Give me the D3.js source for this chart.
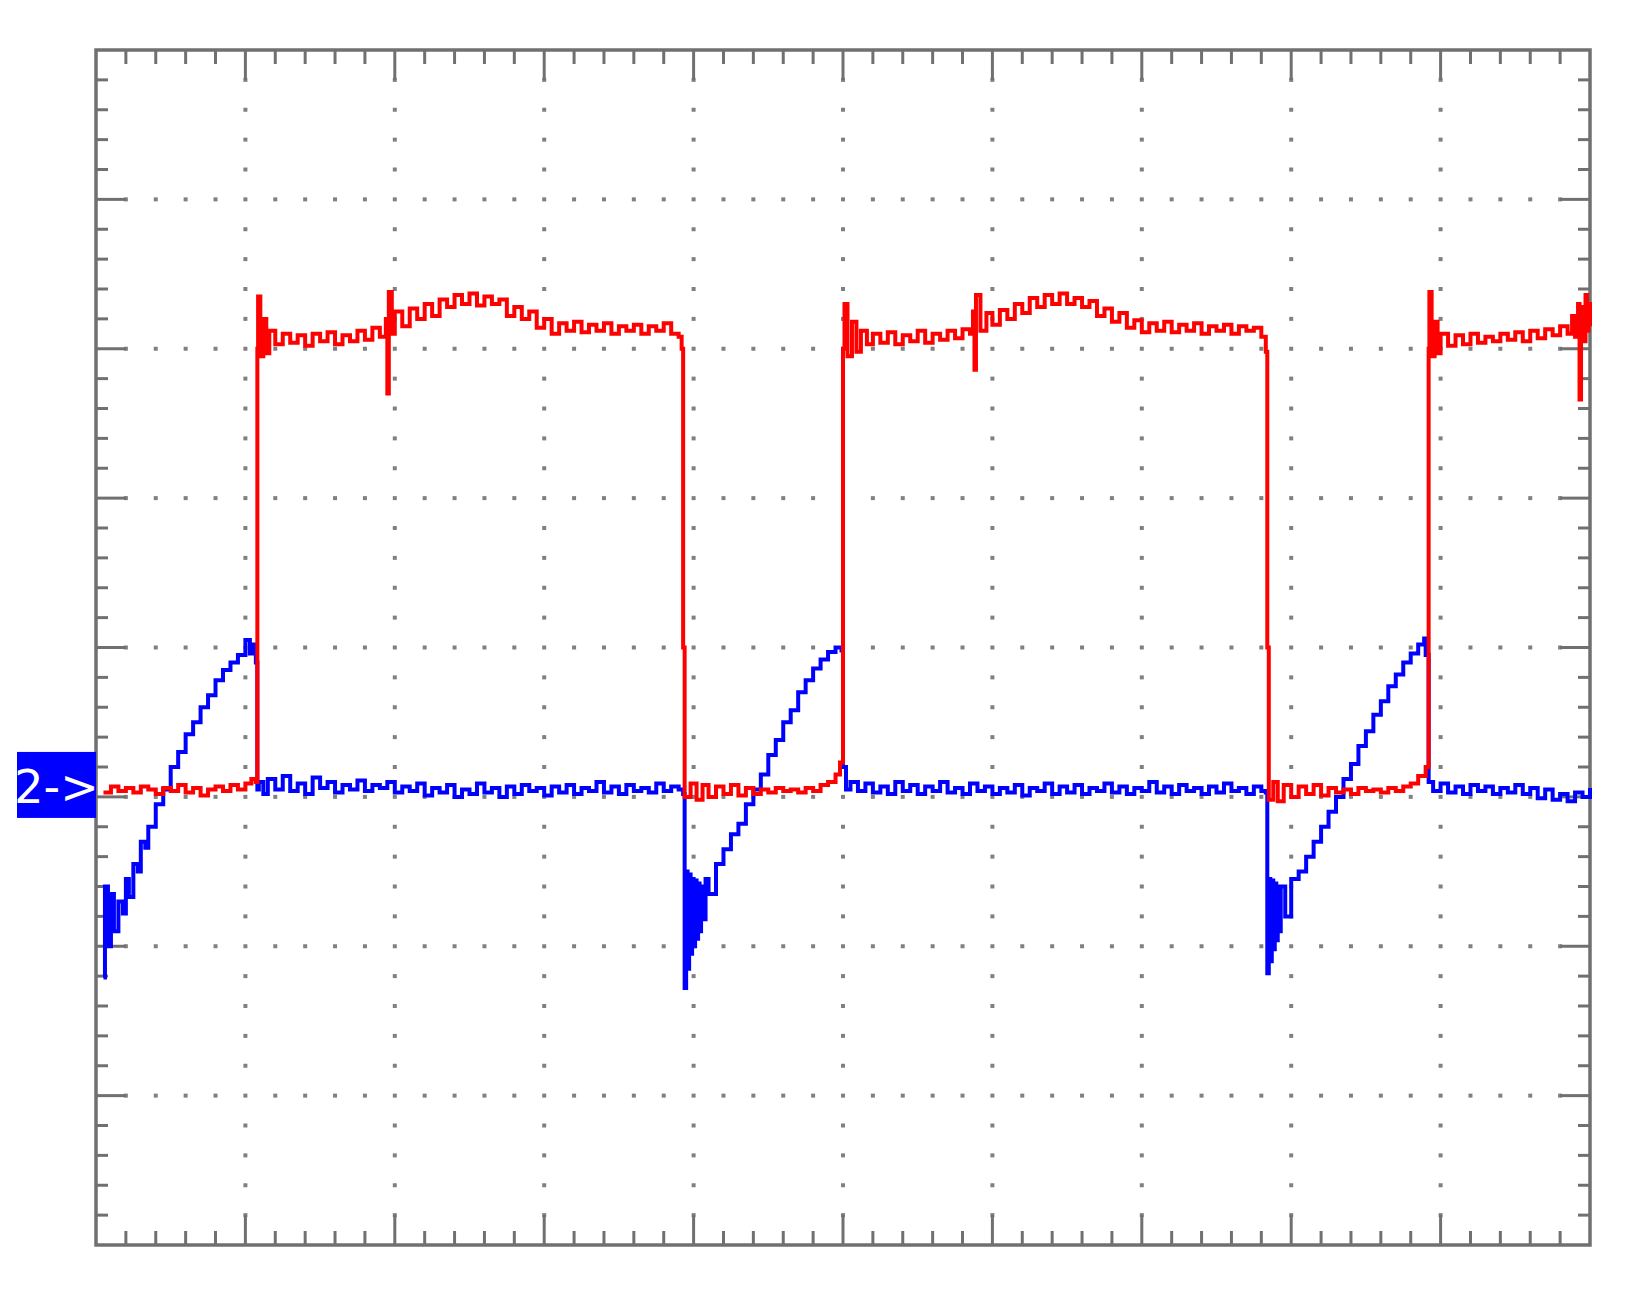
<!DOCTYPE html>
<html>
<head>
<meta charset="utf-8">
<script src="https://cdn.jsdelivr.net/npm/d3@7"></script>
<style>
  body { margin: 0; background: #fff; }
</style>
</head>
<body>
<svg id="scope" width="1630" height="1295"></svg>
<script>
// Values are in screen divisions: x 0..10, y 0..8 (bottom to top)
const xDivisions = 10;
const yDivisions = 8;
const channelLabel = '2->';

// Channel 1 (red) – switching square wave
const redTrace = [
  [0.05,3.03],[0.1,3.07],[0.15,3.04],[0.2,3.06],[0.25,3.03],[0.3,3.07],[0.35,3.05],[0.4,3.02],[0.45,3.06],[0.5,3.04],
  [0.55,3.08],[0.6,3.03],[0.65,3.06],[0.7,3.01],[0.75,3.05],[0.8,3.07],[0.85,3.04],[0.9,3.08],[0.95,3.05],[1.0,3.09],
  [1.04,3.12],[1.07,3.1],
  [1.08,6.0],[1.085,6.35],[1.1,5.95],[1.12,6.2],[1.14,5.97],[1.16,6.12],[1.2,6.03],[1.25,6.1],[1.3,6.04],[1.35,6.09],
  [1.4,6.02],[1.45,6.1],[1.5,6.05],[1.55,6.11],[1.6,6.03],[1.65,6.09],[1.7,6.05],[1.75,6.12],[1.8,6.06],[1.85,6.14],
  [1.9,6.08],[1.94,6.2],[1.95,5.7],[1.96,6.38],[1.98,6.1],[2.0,6.25],[2.05,6.15],[2.1,6.27],[2.15,6.2],[2.2,6.3],
  [2.25,6.22],[2.3,6.33],[2.35,6.28],[2.4,6.36],[2.45,6.3],[2.5,6.37],[2.55,6.29],[2.6,6.35],[2.65,6.3],[2.7,6.33],
  [2.75,6.22],[2.8,6.28],[2.85,6.2],[2.9,6.25],[2.95,6.14],[3.0,6.2],[3.05,6.1],[3.1,6.17],[3.15,6.12],[3.2,6.18],
  [3.25,6.11],[3.3,6.16],[3.35,6.12],[3.4,6.17],[3.45,6.1],[3.5,6.15],[3.55,6.12],[3.6,6.16],[3.65,6.1],[3.7,6.15],
  [3.75,6.12],[3.8,6.17],[3.85,6.1],[3.9,6.08],[3.92,6.0],
  [3.93,4.0],[3.94,3.0],[3.98,3.09],[4.02,2.98],[4.06,3.08],[4.1,3.0],[4.15,3.07],[4.2,3.02],[4.25,3.08],[4.3,3.01],
  [4.35,3.06],[4.4,3.02],[4.45,3.05],[4.5,3.03],[4.55,3.06],[4.6,3.04],[4.65,3.05],[4.7,3.03],[4.75,3.06],[4.8,3.04],
  [4.85,3.08],[4.9,3.1],[4.95,3.15],[4.98,3.23],
  [5.0,6.0],[5.01,6.3],[5.03,5.95],[5.06,6.18],[5.09,5.98],[5.12,6.12],[5.16,6.03],[5.2,6.1],[5.25,6.04],[5.3,6.11],
  [5.35,6.03],[5.4,6.09],[5.45,6.05],[5.5,6.12],[5.55,6.04],[5.6,6.1],[5.65,6.06],[5.7,6.12],[5.75,6.07],[5.8,6.13],
  [5.85,6.1],[5.87,6.25],[5.88,5.86],[5.89,6.36],[5.92,6.12],[5.96,6.24],[6.0,6.16],[6.05,6.26],[6.1,6.2],[6.15,6.3],
  [6.2,6.24],[6.25,6.34],[6.3,6.28],[6.35,6.36],[6.4,6.3],[6.45,6.37],[6.5,6.3],[6.55,6.34],[6.6,6.28],[6.65,6.32],
  [6.7,6.22],[6.75,6.27],[6.8,6.18],[6.85,6.24],[6.9,6.14],[6.95,6.19],[7.0,6.11],[7.05,6.17],[7.1,6.12],[7.15,6.18],
  [7.2,6.11],[7.25,6.16],[7.3,6.12],[7.35,6.17],[7.4,6.1],[7.45,6.15],[7.5,6.12],[7.55,6.16],[7.6,6.1],[7.65,6.15],
  [7.7,6.12],[7.75,6.14],[7.8,6.08],[7.83,5.98],
  [7.84,4.0],[7.85,2.98],[7.88,3.1],[7.91,2.97],[7.95,3.08],[8.0,3.0],[8.05,3.07],[8.1,3.02],[8.15,3.08],[8.2,3.01],
  [8.25,3.06],[8.3,3.03],[8.35,3.05],[8.4,3.02],[8.45,3.06],[8.5,3.04],[8.55,3.05],[8.6,3.03],[8.65,3.06],[8.7,3.04],
  [8.75,3.07],[8.8,3.09],[8.85,3.14],[8.9,3.2],
  [8.92,6.0],[8.925,6.38],[8.94,5.95],[8.96,6.18],[8.98,5.97],[9.0,6.1],[9.05,6.02],[9.1,6.09],[9.15,6.03],[9.2,6.1],
  [9.25,6.04],[9.3,6.08],[9.35,6.05],[9.4,6.1],[9.45,6.06],[9.5,6.11],[9.55,6.05],[9.6,6.12],[9.65,6.07],[9.7,6.13],
  [9.75,6.09],[9.8,6.15],[9.85,6.1],[9.88,6.22],[9.9,6.08],[9.92,6.3],[9.93,5.66],[9.94,6.28],[9.96,6.05],[9.97,6.36],
  [9.98,6.12],[9.99,6.3],[10.0,6.15]
];

// Channel 2 (blue) – ramp current
const blueTrace = [
  [0.05,1.79],[0.06,2.4],[0.08,2.0],[0.1,2.35],[0.12,2.1],[0.15,2.3],[0.18,2.22],[0.2,2.45],[0.22,2.33],[0.25,2.55],
  [0.28,2.5],[0.3,2.7],[0.33,2.66],[0.35,2.8],[0.4,2.95],[0.45,3.05],[0.5,3.2],[0.55,3.3],[0.6,3.42],[0.65,3.5],
  [0.7,3.6],[0.75,3.68],[0.8,3.78],[0.85,3.85],[0.9,3.9],[0.95,3.95],[1.0,4.05],[1.03,3.96],[1.05,4.02],[1.07,3.9],
  [1.08,3.05],[1.09,3.1],[1.12,3.02],[1.15,3.12],[1.2,3.05],[1.25,3.14],[1.3,3.04],[1.35,3.09],[1.4,3.02],[1.45,3.13],
  [1.5,3.06],[1.55,3.1],[1.6,3.03],[1.65,3.08],[1.7,3.05],[1.75,3.11],[1.8,3.04],[1.85,3.08],[1.9,3.06],[1.95,3.1],
  [2.0,3.03],[2.05,3.07],[2.1,3.04],[2.15,3.09],[2.2,3.01],[2.25,3.06],[2.3,3.03],[2.35,3.08],[2.4,3.0],[2.45,3.05],
  [2.5,3.02],[2.55,3.09],[2.6,3.03],[2.65,3.06],[2.7,3.0],[2.75,3.07],[2.8,3.02],[2.85,3.08],[2.9,3.04],[2.95,3.06],
  [3.0,3.01],[3.05,3.07],[3.1,3.03],[3.15,3.08],[3.2,3.02],[3.25,3.06],[3.3,3.04],[3.35,3.1],[3.4,3.03],[3.45,3.07],
  [3.5,3.02],[3.55,3.08],[3.6,3.04],[3.65,3.06],[3.7,3.03],[3.75,3.09],[3.8,3.04],[3.85,3.07],[3.9,3.05],[3.93,3.02],
  [3.94,1.72],[3.95,2.5],[3.96,1.85],[3.97,2.48],[3.98,1.95],[3.99,2.45],[4.0,2.0],[4.01,2.44],[4.02,2.05],[4.03,2.42],
  [4.04,2.1],[4.05,2.4],[4.06,2.18],[4.08,2.45],[4.1,2.35],[4.15,2.55],
  [4.2,2.65],[4.25,2.75],[4.3,2.82],[4.35,2.95],[4.4,3.05],[4.45,3.15],[4.5,3.28],[4.55,3.38],[4.6,3.5],[4.65,3.58],
  [4.7,3.7],[4.75,3.78],[4.8,3.86],[4.85,3.92],[4.9,3.97],[4.95,4.0],[4.99,3.98],
  [5.0,3.2],[5.02,3.05],[5.05,3.1],[5.1,3.04],[5.15,3.09],[5.2,3.03],[5.25,3.07],[5.3,3.02],[5.35,3.1],[5.4,3.04],
  [5.45,3.08],[5.5,3.02],[5.55,3.07],[5.6,3.04],[5.65,3.1],[5.7,3.03],[5.75,3.06],[5.8,3.02],[5.85,3.09],[5.9,3.04],
  [5.95,3.07],[6.0,3.02],[6.05,3.06],[6.1,3.03],[6.15,3.08],[6.2,3.01],[6.25,3.06],[6.3,3.04],[6.35,3.09],[6.4,3.02],
  [6.45,3.07],[6.5,3.03],[6.55,3.08],[6.6,3.02],[6.65,3.06],[6.7,3.04],[6.75,3.09],[6.8,3.03],[6.85,3.07],[6.9,3.02],
  [6.95,3.06],[7.0,3.04],[7.05,3.1],[7.1,3.03],[7.15,3.07],[7.2,3.02],[7.25,3.08],[7.3,3.04],[7.35,3.06],[7.4,3.02],
  [7.45,3.07],[7.5,3.03],[7.55,3.09],[7.6,3.04],[7.65,3.06],[7.7,3.02],[7.75,3.07],[7.8,3.04],[7.83,3.03],
  [7.84,1.82],[7.85,2.45],[7.86,1.9],[7.87,2.44],[7.88,1.98],[7.89,2.42],[7.9,2.04],[7.91,2.4],[7.92,2.1],[7.93,2.4],
  [7.96,2.2],[8.0,2.45],[8.05,2.5],[8.1,2.6],
  [8.15,2.7],[8.2,2.8],[8.25,2.9],[8.3,3.0],[8.35,3.12],[8.4,3.22],[8.45,3.34],[8.5,3.44],[8.55,3.55],[8.6,3.64],
  [8.65,3.74],[8.7,3.82],[8.75,3.9],[8.8,3.96],[8.85,4.02],[8.89,4.06],[8.9,3.95],
  [8.92,3.1],[8.95,3.04],[9.0,3.09],[9.05,3.03],[9.1,3.07],[9.15,3.02],[9.2,3.08],[9.25,3.04],[9.3,3.07],[9.35,3.02],
  [9.4,3.06],[9.45,3.03],[9.5,3.08],[9.55,3.02],[9.6,3.06],[9.65,2.99],[9.7,3.05],[9.75,2.98],[9.8,3.02],[9.85,2.97],
  [9.9,3.03],[9.95,3.0],[10.0,3.06]
];

const frameLeft = 96, frameRight = 1590, frameTop = 50, frameBottom = 1245;
const gridColor = '#707070';

const svg = d3.select('#scope');

const x = d3.scaleLinear().domain([0, xDivisions]).range([frameLeft, frameRight]);
const y = d3.scaleLinear().domain([0, yDivisions]).range([frameBottom, frameTop]);

// Dotted graticule: a dot every 1/5 division along each inner grid line
const dots = svg.append('g').attr('fill', '#808080');
d3.range(1, xDivisions).forEach(i => {
  d3.range(1, yDivisions * 5).forEach(j => {
    dots.append('rect').attr('x', x(i) - 2).attr('y', y(j / 5) - 2).attr('width', 4).attr('height', 4);
  });
});
d3.range(1, yDivisions).forEach(j => {
  d3.range(1, xDivisions * 5).forEach(i => {
    if (i % 5 === 0) return;
    dots.append('rect').attr('x', x(i / 5) - 2).attr('y', y(j) - 2).attr('width', 4).attr('height', 4);
  });
});

// Edge ticks, longer at whole divisions
const ticks = svg.append('g').attr('stroke', gridColor).attr('stroke-width', 3);
d3.range(1, xDivisions * 5).forEach(i => {
  const len = i % 5 === 0 ? 30 : 14;
  ticks.append('line').attr('x1', x(i / 5)).attr('x2', x(i / 5)).attr('y1', frameTop).attr('y2', frameTop + len);
  ticks.append('line').attr('x1', x(i / 5)).attr('x2', x(i / 5)).attr('y1', frameBottom).attr('y2', frameBottom - len);
});
d3.range(1, yDivisions * 5).forEach(j => {
  const len = j % 5 === 0 ? 30 : 12;
  ticks.append('line').attr('y1', y(j / 5)).attr('y2', y(j / 5)).attr('x1', frameLeft).attr('x2', frameLeft + len);
  ticks.append('line').attr('y1', y(j / 5)).attr('y2', y(j / 5)).attr('x1', frameRight).attr('x2', frameRight - len);
});

svg.append('rect')
  .attr('x', frameLeft).attr('y', frameTop)
  .attr('width', frameRight - frameLeft).attr('height', frameBottom - frameTop)
  .attr('fill', 'none').attr('stroke', gridColor).attr('stroke-width', 3.5);

// Traces
const line = d3.line().x(d => x(d[0])).y(d => y(d[1])).curve(d3.curveStepAfter);

svg.append('path').datum(blueTrace)
  .attr('d', line).attr('fill', 'none').attr('stroke', '#0000ff').attr('stroke-width', 4);

svg.append('path').datum(redTrace)
  .attr('d', line).attr('fill', 'none').attr('stroke', '#ff0000').attr('stroke-width', 4);

// Channel 2 ground marker
const marker = svg.append('g');
marker.append('rect')
  .attr('x', 17).attr('y', y(3.08) - 33)
  .attr('width', frameLeft - 17).attr('height', 66)
  .attr('fill', '#0000ff');
marker.append('text')
  .attr('x', (17 + frameLeft) / 2).attr('y', y(3.08) + 2)
  .attr('text-anchor', 'middle').attr('dominant-baseline', 'central')
  .attr('fill', '#fff').attr('font-family', 'DejaVu Sans, sans-serif')
  .attr('font-size', 46)
  .text(channelLabel);
</script>
</body>
</html>
